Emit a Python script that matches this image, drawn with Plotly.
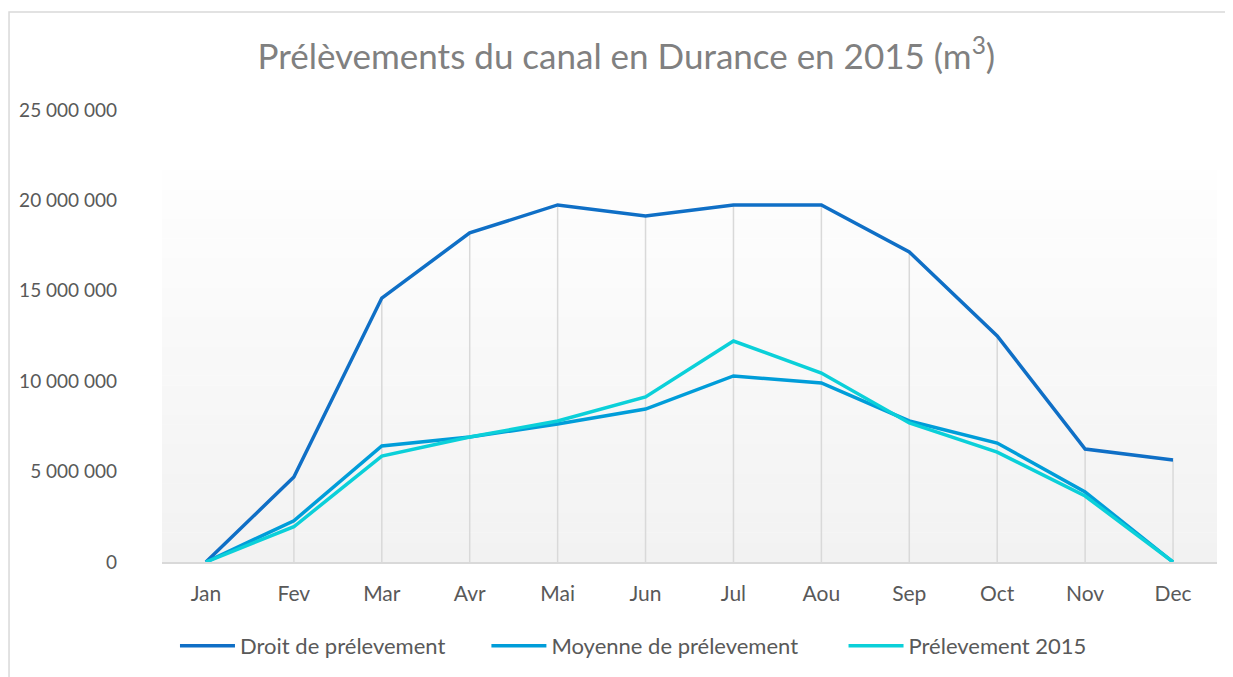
"""Prélèvements du canal en Durance en 2015 - line chart."""

import plotly.graph_objects as go

months = ['Jan', 'Fev', 'Mar', 'Avr', 'Mai', 'Jun', 'Jul', 'Aou', 'Sep', 'Oct', 'Nov', 'Dec']

droit = [0, 4700000, 14600000, 18200000, 19750000, 19140000,
         19750000, 19750000, 17150000, 12500000, 6250000, 5640000]
moyenne = [0, 2280000, 6420000, 6910000, 7630000, 8460000,
           10290000, 9900000, 7800000, 6580000, 3870000, 0]
prelevement_2015 = [0, 1950000, 5860000, 6910000, 7800000, 9130000,
                    12220000, 10450000, 7690000, 6080000, 3650000, 0]

y_ticks = [0, 5000000, 10000000, 15000000, 20000000, 25000000]
y_tick_labels = ['0', '5 000 000', '10 000 000', '15 000 000', '20 000 000', '25 000 000']

series = [
    ('Droit de prélevement', droit, '#0F6FC6', 'legend', 0.0123),
    ('Moyenne de prélevement', moyenne, '#009DD9', 'legend2', 0.3075),
    ('Prélevement 2015', prelevement_2015, '#0BD0D9', 'legend3', 0.646),
]

FONT = 'Lato, Open Sans, sans-serif'
TEXT = '#595959'

fig = go.Figure()

# drop lines (from axis up to the highest series at each month)
drop_x, drop_y = [], []
for i, m in enumerate(months):
    top = max(droit[i], moyenne[i], prelevement_2015[i])
    drop_x += [m, m, None]
    drop_y += [0, top, None]
fig.add_trace(go.Scatter(
    x=drop_x, y=drop_y, mode='lines',
    line=dict(color='#d9d9d9', width=1.5),
    showlegend=False, hoverinfo='skip'
))

for name, vals, color, leg, _ in series:
    fig.add_trace(go.Scatter(
        x=months, y=vals, name=name, mode='lines',
        line=dict(color=color, width=3.5), legend=leg
    ))

# plot area gradient (white at top -> light grey at bottom)
shapes = []
steps = 40
top_frac = 0.867
for k in range(steps):
    y0 = top_frac * k / steps
    y1 = top_frac * (k + 1) / steps
    t = k / (steps - 1)
    c = int(round(242 + (254 - 242) * t))
    shapes.append(dict(
        type='rect', xref='paper', yref='paper', x0=0, x1=1, y0=y0, y1=y1 + 0.001,
        fillcolor=f'rgb({c},{c},{c})', line=dict(width=0), layer='below'
    ))
# chart border
shapes.append(dict(
    type='rect', xref='paper', yref='paper',
    x0=-0.145, x1=1.05, y0=-0.35, y1=1.217,
    line=dict(color='#d9d9d9', width=1.5), fillcolor='rgba(0,0,0,0)', layer='below'
))

legend_style = dict(
    orientation='h', xanchor='left', y=-0.186, yanchor='middle',
    font=dict(family=FONT, size=22, color=TEXT),
    itemwidth=55, bgcolor='rgba(0,0,0,0)'
)

fig.update_layout(
    width=1233, height=677,
    margin=dict(l=154, r=24, t=102, b=123),
    paper_bgcolor='white', plot_bgcolor='white',
    font=dict(family=FONT, color=TEXT, size=19),
    title=dict(
        text='Prélèvements du canal en Durance en 2015 (m<sup>3</sup>)',
        x=0.5015, xanchor='center', y=0.928, yanchor='middle',
        font=dict(family=FONT, size=35, color='#808080')
    ),
    shapes=shapes,
    showlegend=True,
    hovermode='x',
)
for name, vals, color, leg, lx in series:
    fig.update_layout({leg: dict(legend_style, x=lx)})

fig.update_xaxes(
    type='category', range=[-0.5, len(months) - 0.5],
    showgrid=False, zeroline=False,
    showline=True, linecolor='#d9d9d9', linewidth=1.5,
    ticks='', ticklabelstandoff=12,
    tickfont=dict(family=FONT, size=21, color=TEXT)
)
fig.update_yaxes(
    range=[0, 25000000], tickvals=y_ticks, ticktext=y_tick_labels,
    showgrid=False, zeroline=False, showline=False,
    ticks='', ticklabelstandoff=44,
    tickfont=dict(family=FONT, size=19, color=TEXT)
)

fig.write_html("out.html")
